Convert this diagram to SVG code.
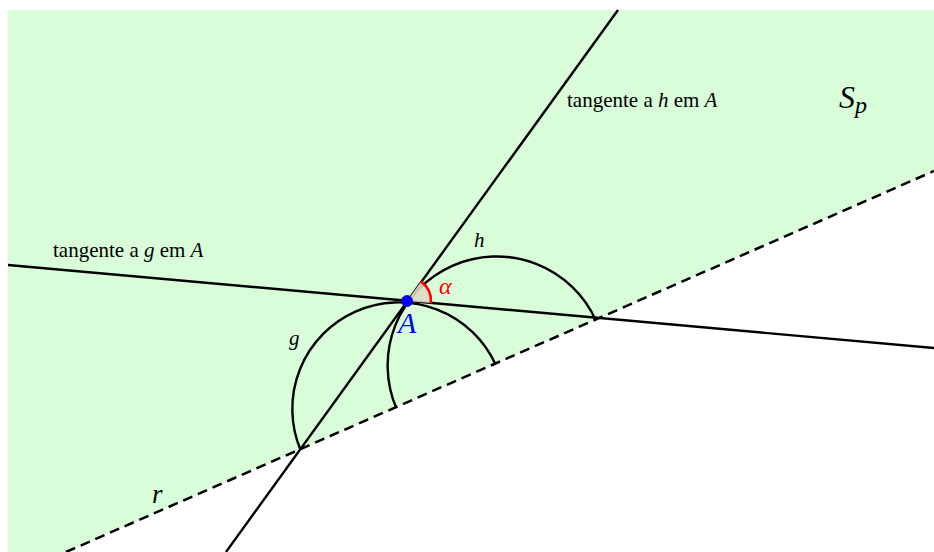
<svg xmlns="http://www.w3.org/2000/svg" width="934" height="552" viewBox="0 0 934 552">
<style>
.ln{stroke:#000;stroke-width:2.4;fill:none}
.dash{stroke:#000;stroke-width:2.5;fill:none;stroke-dasharray:10 6}
.t{font-family:"Liberation Serif","Times New Roman",serif;fill:#000}
.i{font-style:italic}
</style>
<rect x="0" y="0" width="934" height="552" fill="#fff"/>
<g id="region">
<polygon points="8,10 934,10 934,171 66,552 8,552" fill="#d9fdd9"/>
</g>
<g id="connectors">
<line id="r" class="dash" x1="66" y1="552" x2="934" y2="171"/>
<line id="tg" class="ln" x1="8" y1="265" x2="934" y2="348"/>
<line id="th" class="ln" x1="618" y1="10" x2="226" y2="552"/>
<path id="g" class="ln" d="M300.5,449.8 A106.5,106.5 0 0 1 495.5,364.2"/>
<path id="h" class="ln" d="M396.2,407.8 A109,109 0 0 1 595.8,320.2"/>
</g>
<g id="angle">
<path d="M407,301 L421.1,281.6 A24,24 0 0 1 430.9,303.1 Z" fill="#dcdcc2" fill-opacity="0.9"/>
<path d="M421.1,281.6 A24,24 0 0 1 430.9,303.1" fill="none" stroke="#f00" stroke-width="2.6"/>
<text class="t i" x="439" y="294" font-size="24" style="fill:#f00">α</text>
</g>
<g id="pointA">
<circle cx="407" cy="301" r="5.5" fill="#00f" stroke="#0000a0" stroke-width="0.8"/>
<text class="t i" x="398" y="333" font-size="30" style="fill:#00f">A</text>
</g>
<g id="labels">
<text class="t" x="567" y="107" font-size="21">tangente a <tspan class="i">h</tspan> em <tspan class="i">A</tspan></text>
<text class="t" x="53" y="257" font-size="21">tangente a <tspan class="i">g</tspan> em <tspan class="i">A</tspan></text>
<text class="t i" x="474" y="247" font-size="21">h</text>
<text class="t i" x="289" y="345" font-size="21">g</text>
<text class="t i" x="152" y="503" font-size="27">r</text>
<text class="t i" x="839" y="108" font-size="32">S<tspan font-size="24" dy="5">p</tspan></text>
</g>
</svg>
